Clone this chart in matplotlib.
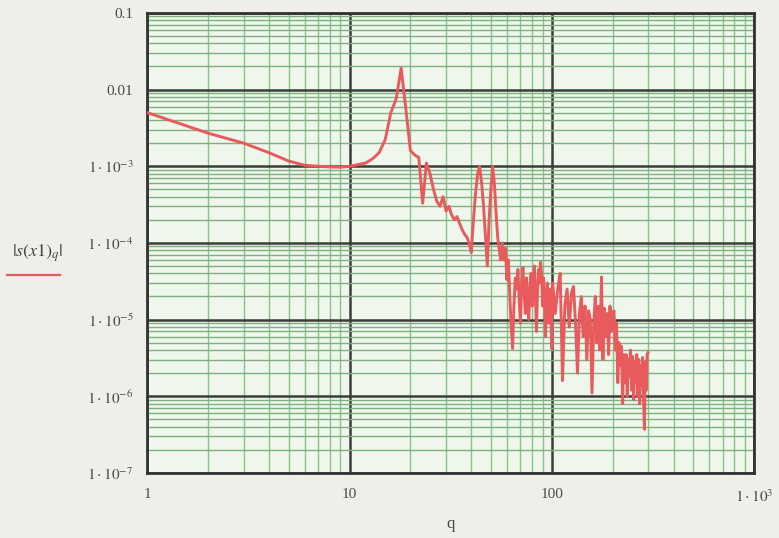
import numpy as np
import matplotlib.pyplot as plt
from matplotlib.ticker import LogLocator, NullFormatter
from matplotlib.lines import Line2D

# smooth part and the two resonance groups (q = 1 .. 56)
q_head = list(range(1, 57))
s_head = [5.0e-3, 2.7e-3, 2.0e-3, 1.5e-3, 1.17e-3, 1.03e-3, 1.0e-3, 0.98e-3, 0.97e-3, 1.0e-3,
          1.05e-3, 1.1e-3, 1.25e-3, 1.5e-3, 2.2e-3, 5.0e-3, 7.5e-3, 1.9e-2, 5.5e-3, 1.6e-3,
          1.4e-3, 1.3e-3, 3.3e-4, 1.1e-3, 8.0e-4, 5.0e-4, 3.5e-4, 3.0e-4, 4.0e-4, 2.6e-4,
          3.0e-4, 2.3e-4, 2.0e-4, 2.2e-4, 1.8e-4, 1.5e-4, 1.3e-4, 1.2e-4, 1.0e-4, 7.5e-5,
          2.0e-4, 4.5e-4, 8.0e-4, 1.0e-3, 6.0e-4, 3.0e-4, 1.2e-4, 5.0e-5, 2.0e-4, 5.0e-4,
          1.0e-3, 6.0e-4, 2.5e-4, 1.2e-4, 8.0e-5, 6.0e-5]

# noisy tail, q = 57 .. 100
q_mid = list(range(57, 101))
s_mid = [1.0e-4, 6.0e-5, 8.5e-5, 3.3e-5, 6.0e-5, 2.0e-5, 8.0e-6, 4.2e-6, 1.5e-5, 3.5e-5,
         2.5e-5, 4.5e-5, 1.8e-5, 9.0e-6, 3.0e-5, 4.8e-5, 2.2e-5, 1.2e-5, 3.5e-5, 1.8e-5,
         1.0e-5, 2.6e-5, 4.0e-5, 1.5e-5, 3.0e-5, 5.0e-5, 2.0e-5, 7.0e-6, 2.5e-5, 4.5e-5,
         3.0e-5, 5.6e-5, 4.0e-5, 1.5e-5, 3.5e-5, 2.0e-5, 6.0e-6, 1.2e-5, 3.0e-5, 1.8e-5,
         9.0e-6, 2.5e-5, 1.2e-5, 4.2e-6]

# noisy tail, q = 101 .. 299
q_tail = list(range(101, 300, 3))
s_tail = [3.0e-5, 1.2e-5, 2.5e-5, 4.0e-5, 1.6e-6, 1.5e-5, 2.5e-5, 8.0e-6, 2.2e-5, 2.7e-5,
          9.0e-6, 2.0e-6, 1.2e-5, 2.0e-5, 6.0e-6, 1.5e-5, 3.0e-6, 1.3e-5, 1.0e-5, 1.1e-6,
          8.0e-6, 2.0e-5, 5.0e-6, 1.5e-5, 4.0e-6, 3.6e-5, 3.0e-6, 1.4e-5, 6.0e-6, 1.2e-5,
          3.5e-6, 1.5e-5, 7.0e-6, 1.2e-5, 1.3e-5, 4.0e-6, 9.0e-6, 1.5e-6, 5.0e-6, 2.5e-6,
          4.5e-6, 8.0e-7, 3.5e-6, 1.5e-6, 3.5e-6, 1.0e-6, 3.0e-6, 1.8e-6, 4.0e-6, 1.2e-6,
          3.3e-6, 9.0e-7, 2.8e-6, 1.5e-6, 3.5e-6, 1.0e-6, 3.0e-6, 8.0e-7, 2.5e-6, 1.4e-6,
          3.2e-6, 1.0e-6, 3.7e-7, 2.8e-6, 1.2e-6, 3.5e-6, 3.7e-6]

x_ticks = [1, 10, 100, 1000]
x_labels = ['1', '10', '100', r'$1\cdot10^{3}$']
y_ticks = [1e-1, 1e-2, 1e-3, 1e-4, 1e-5, 1e-6, 1e-7]
y_labels = ['0.1', '0.01', r'$1\cdot10^{-3}$', r'$1\cdot10^{-4}$',
            r'$1\cdot10^{-5}$', r'$1\cdot10^{-6}$', r'$1\cdot10^{-7}$']

q = np.array(q_head + q_mid + q_tail)
s = np.array(s_head + s_mid + s_tail)

plt.rcParams['font.family'] = ['Liberation Serif', 'DejaVu Serif']
plt.rcParams['mathtext.fontset'] = 'stix'

fig = plt.figure(figsize=(7.79, 5.38), dpi=100, facecolor='#efefea')
ax = fig.add_axes([0.189, 0.121, 0.779, 0.855])
ax.set_facecolor('#eff6ec')

ax.plot(q, s, color='#e85a5c', lw=2.1, zorder=3)

ax.set_xscale('log')
ax.set_yscale('log')
ax.set_xlim(1, 1000)
ax.set_ylim(1e-7, 1e-1)

ax.set_xticks(x_ticks)
ax.set_xticklabels(x_labels)
ax.set_yticks(y_ticks)
ax.set_yticklabels(y_labels)
ax.xaxis.set_minor_locator(LogLocator(base=10, subs=range(2, 10)))
ax.yaxis.set_minor_locator(LogLocator(base=10, subs=range(2, 10), numticks=20))
ax.xaxis.set_minor_formatter(NullFormatter())
ax.yaxis.set_minor_formatter(NullFormatter())

ax.grid(which='minor', axis='x', color='#86c486', lw=1.0, zorder=1)
ax.grid(which='minor', axis='y', color='#7fb07f', lw=1.0, zorder=1)
ax.grid(which='major', color='#3a3d3a', lw=1.8, zorder=2)

ax.tick_params(which='both', length=0, colors='#4a4a4a', labelsize=11)
ax.tick_params(axis='x', pad=11)
ax.tick_params(axis='y', pad=10)
for sp in ax.spines.values():
    sp.set_color('#333333')
    sp.set_linewidth(2)

ax.set_xlabel('q', fontsize=12, color='#4a4a4a', labelpad=8)

# trace name with its line sample underneath
fig.text(12 / 779, 1 - 253 / 538, r'$|s(x1)_q|$', fontsize=13,
         color='#444444', ha='left', va='center')
fig.add_artist(Line2D([7 / 779, 60 / 779], [1 - 275 / 538, 1 - 275 / 538],
                      color='#e05a62', lw=1.6))

fig.savefig('out.png', dpi=100, facecolor=fig.get_facecolor())
